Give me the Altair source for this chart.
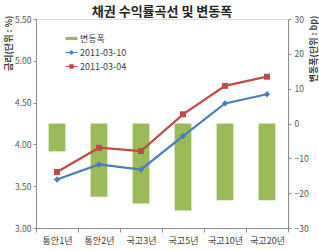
import altair as alt
import pandas as pd

categories = ['통안1년', '통안2년', '국고3년', '국고5년', '국고10년', '국고20년']
rate_0310 = [3.58, 3.76, 3.70, 4.10, 4.49, 4.60]
rate_0304 = [3.67, 3.96, 3.92, 4.36, 4.70, 4.81]
change_bp = [-8, -21, -23, -25, -22, -22]
series_names = ['변동폭', '2011-03-10', '2011-03-04']
series_colors = ['#9BBB59', '#4A7EBB', '#BE4B48']
left_ticks = [3.0, 3.5, 4.0, 4.5, 5.0, 5.5]
right_ticks = [-30, -20, -10, 0, 10, 20, 30]

FONT = 'Noto Sans CJK KR'

bar_df = pd.DataFrame({'cat': categories, 'bp': change_bp})
line_df = pd.DataFrame({
    'cat': categories * 2,
    'series': ['2011-03-10'] * len(categories) + ['2011-03-04'] * len(categories),
    'rate': rate_0310 + rate_0304,
})
legend_df = pd.DataFrame({'series': series_names})

x_enc = alt.X('cat:N', sort=categories, title=None,
              scale=alt.Scale(paddingInner=0, paddingOuter=0),
              axis=alt.Axis(labelAngle=0, tickBand='extent', tickSize=4,
                            labelFontSize=9, labelColor='#404040', labelFont=FONT,
                            domainColor='#8c8c8c', tickColor='#8c8c8c', labelPadding=4))

color_scale = alt.Scale(domain=series_names, range=series_colors)
shape_scale = alt.Scale(domain=series_names, range=[
    'M-1.5,-0.4H1.5V0.4H-1.5Z',
    'M-1.5,-0.15H1.5V0.15H-1.5Z M0,-0.65L0.65,0L0,0.65L-0.65,0Z',
    'M-1.5,-0.15H1.5V0.15H-1.5Z M-0.55,-0.55H0.55V0.55H-0.55Z',
])

bars = alt.Chart(bar_df).mark_bar(color='#9BBB59', width=alt.RelativeBandSize(0.4)).encode(
    x=x_enc,
    y=alt.Y('bp:Q', scale=alt.Scale(domain=[-30, 30], nice=False, zero=False),
            axis=alt.Axis(orient='right', values=right_ticks, grid=False, tickSize=3,
                          labelFontSize=8.5, labelColor='#595959', labelFont=FONT,
                          domainColor='#8c8c8c', tickColor='#8c8c8c', labelPadding=3,
                          title='변동폭(단위 : bp)', titleFont=FONT, titleFontSize=9,
                          titleFontWeight='bold', titleColor='#404040', titleAngle=-90,
                          titleAlign='right', titleBaseline='middle', titleX=25, titleY=-4)),
)

y_left = alt.Y('rate:Q', scale=alt.Scale(domain=[3.0, 5.5], nice=False, zero=False),
               axis=alt.Axis(orient='left', values=left_ticks, format='.2f', grid=False, tickSize=3,
                             labelFontSize=8.5, labelColor='#595959', labelFont=FONT,
                             domainColor='#8c8c8c', tickColor='#8c8c8c', labelPadding=2,
                             title='금리(단위 : %)', titleFont=FONT, titleFontSize=9,
                             titleFontWeight='bold', titleColor='#404040', titleAngle=-90,
                             titleAlign='right', titleBaseline='middle', titleX=-28, titleY=-4))

base = alt.Chart(line_df)
line_blue = base.transform_filter(alt.datum.series == '2011-03-10').mark_line(
    strokeWidth=2.2, color='#4A7EBB').encode(x=x_enc, y=y_left)
line_red = base.transform_filter(alt.datum.series == '2011-03-04').mark_line(
    strokeWidth=2.2, color='#BE4B48').encode(x=x_enc, y=y_left)
pts_blue = base.transform_filter(alt.datum.series == '2011-03-10').mark_point(
    filled=True, shape='diamond', size=40, color='#4A7EBB', opacity=1).encode(x=x_enc, y=y_left)
pts_red = base.transform_filter(alt.datum.series == '2011-03-04').mark_point(
    filled=True, shape='square', size=36, color='#BE4B48', opacity=1).encode(x=x_enc, y=y_left)

leg = alt.Legend(title=None, orient='none', legendX=31, legendY=15,
                 padding=0, symbolSize=64, symbolStrokeWidth=0,
                 labelFontSize=9, labelColor='#404040', labelFont=FONT,
                 labelOffset=4, rowPadding=4)

legend_layer = alt.Chart(legend_df).mark_point(filled=True, size=0, opacity=1).encode(
    color=alt.Color('series:N', scale=color_scale, sort=series_names, legend=leg),
    shape=alt.Shape('series:N', scale=shape_scale, sort=series_names, legend=leg),
)

left_group = alt.layer(line_blue, line_red, pts_blue, pts_red, legend_layer)

chart = alt.layer(bars, left_group).resolve_scale(y='independent').properties(
    width=252, height=209,
    title=alt.TitleParams('채권 수익률곡선 및 변동폭', font=FONT, fontSize=13, fontWeight='bold',
                          color='#262626', anchor='middle', frame='group', offset=-4),
    autosize=alt.AutoSizeParams(type='none'),
    padding={'left': 36, 'top': 19, 'right': 31, 'bottom': 23},
).configure_view(stroke=None).configure(background='white')

chart.save('out.html', embed_options={'renderer': 'svg', 'actions': False})
